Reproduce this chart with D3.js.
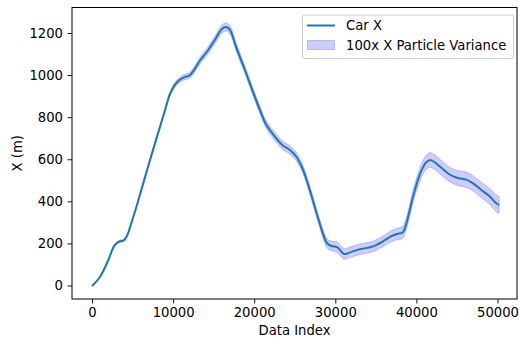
<!DOCTYPE html>
<html>
<head>
<meta charset="utf-8">
<script src="https://cdn.jsdelivr.net/npm/d3@7"></script>
<style>
	body { margin: 0; background: #fff; }
	text { font-family: "DejaVu Sans", sans-serif; fill: #000; }
</style>
</head>
<body>
<div id="graph"></div>
<script>
// data
var dataIndex = [0, 1000, 2000, 2800, 3400, 3900, 4300, 5000, 5600, 6200, 7000, 8000, 9000, 9600, 10200, 10800, 11400, 12000, 12600, 13300, 14200, 15200, 16000, 16500, 17000, 17800, 18800, 19900, 20700, 21400, 22400, 23500, 24400, 25200, 26000, 26900, 28000, 29000, 29500, 30200, 30600, 31100, 32000, 33000, 34500, 35800, 36800, 37600, 38300, 38800, 39600, 40500, 41200, 41700, 42200, 43000, 44000, 45000, 46200, 47000, 48000, 49000, 49800, 50200];
var carX = [-2, 42, 120, 192, 210, 214, 235, 315, 390, 470, 576, 705, 833, 908, 952, 977, 990, 998, 1025, 1068, 1112, 1170, 1218, 1228, 1215, 1130, 1030, 915, 835, 770, 715, 667, 644, 612, 552, 448, 305, 200, 188, 183, 168, 150, 160, 172, 184, 208, 232, 245, 252, 300, 425, 535, 585, 597, 587, 562, 530, 512, 502, 485, 454, 425, 392, 383];
var variance100 = [2, 3, 4, 5, 6, 6, 6, 6, 6, 7, 7, 8, 9, 10, 11, 12, 13, 14, 15, 16, 17, 18, 19, 20, 20, 19, 18, 18, 18, 18, 19, 20, 20, 20, 20, 20, 20, 22, 23, 25, 25, 25, 25, 25, 25, 25, 26, 27, 28, 28, 30, 32, 34, 35, 35, 35, 35, 35, 36, 36, 37, 38, 40, 40];
var xTicks = [0, 10000, 20000, 30000, 40000, 50000];
var yTicks = [0, 200, 400, 600, 800, 1000, 1200];

var SVGwidth = 519,
	SVGheight = 341,
	plot = {left: 72, right: 517, top: 7.5, bottom: 299};

var rows = dataIndex.map(function(d, i){ return {idx: d, x: carX[i], v: variance100[i]}; });

var svg = d3.select('div#graph')
	.append('svg')
	.attr('width', SVGwidth)
	.attr('height', SVGheight);

var x = d3.scaleLinear()
	.domain([-2466, 52404])
	.range([plot.left, plot.right]);

var y = d3.scaleLinear()
	.domain([-64, 1321])
	.range([plot.bottom, plot.top]);

var area = d3.area()
	.curve(d3.curveCatmullRom.alpha(0.5))
	.x(function(d) { return x(d.idx); })
	.y0(function(d) { return y(d.x - d.v); })
	.y1(function(d) { return y(d.x + d.v); });

var line = d3.line()
	.curve(d3.curveCatmullRom.alpha(0.5))
	.x(function(d) { return x(d.idx); })
	.y(function(d) { return y(d.x); });

svg.append("path")
	.datum(rows)
	.attr("fill", "rgba(0,0,255,0.2)")
	.attr("stroke", "rgba(0,0,255,0.2)")
	.attr("stroke-width", 1)
	.attr("d", area);

svg.append("path")
	.datum(rows)
	.attr("fill", "none")
	.attr("stroke", "#1f77b4")
	.attr("stroke-width", 2)
	.attr("stroke-linejoin", "round")
	.attr("stroke-linecap", "butt")
	.attr("d", line);

// axes
var xAxis = d3.axisBottom(x).tickValues(xTicks).tickSize(4.5).tickSizeOuter(0).tickPadding(4.5).tickFormat(d3.format("d"));
var yAxis = d3.axisLeft(y).tickValues(yTicks).tickSize(4.5).tickSizeOuter(0).tickPadding(4.5).tickFormat(d3.format("d"));

var gx = svg.append("g")
	.attr("transform", "translate(0," + plot.bottom + ")")
	.call(xAxis);
var gy = svg.append("g")
	.attr("transform", "translate(" + plot.left + ",0)")
	.call(yAxis);

[gx, gy].forEach(function(g){
	g.select(".domain").remove();
	g.selectAll("line").attr("stroke", "#000").attr("stroke-width", 0.9);
	g.selectAll("text").style("font-size", "13.2px").attr("fill", "#000").style("font-family", "DejaVu Sans");
});

// frame
svg.append("rect")
	.attr("x", plot.left)
	.attr("y", plot.top)
	.attr("width", plot.right - plot.left)
	.attr("height", plot.bottom - plot.top)
	.attr("fill", "none")
	.attr("stroke", "#000")
	.attr("stroke-width", 1);

svg.append("text")
	.attr("x", (plot.left + plot.right) / 2)
	.attr("y", 335)
	.attr("text-anchor", "middle")
	.style("font-size", "13.2px")
	.text("Data Index");

svg.append("text")
	.attr("transform", "translate(22," + (plot.top + plot.bottom) / 2 + ") rotate(-90)")
	.attr("text-anchor", "middle")
	.style("font-size", "13.2px")
	.text("X (m)");

// legend
var legend = svg.append("g");
legend.append("rect")
	.attr("x", 302.5).attr("y", 15)
	.attr("width", 211).attr("height", 43.5)
	.attr("rx", 2.5)
	.attr("fill", "rgba(255,255,255,0.8)")
	.attr("stroke", "#ccc")
	.attr("stroke-width", 1);
legend.append("line")
	.attr("x1", 307).attr("x2", 335)
	.attr("y1", 25.5).attr("y2", 25.5)
	.attr("stroke", "#1f77b4").attr("stroke-width", 2);
legend.append("rect")
	.attr("x", 307.5).attr("y", 40.5)
	.attr("width", 27).attr("height", 9)
	.attr("fill", "rgba(0,0,255,0.2)")
	.attr("stroke", "rgba(0,0,255,0.2)");
legend.append("text")
	.attr("x", 346).attr("y", 30)
	.style("font-size", "13.2px")
	.text("Car X");
legend.append("text")
	.attr("x", 346).attr("y", 50)
	.style("font-size", "13.2px")
	.text("100x X Particle Variance");
</script>
</body>
</html>
